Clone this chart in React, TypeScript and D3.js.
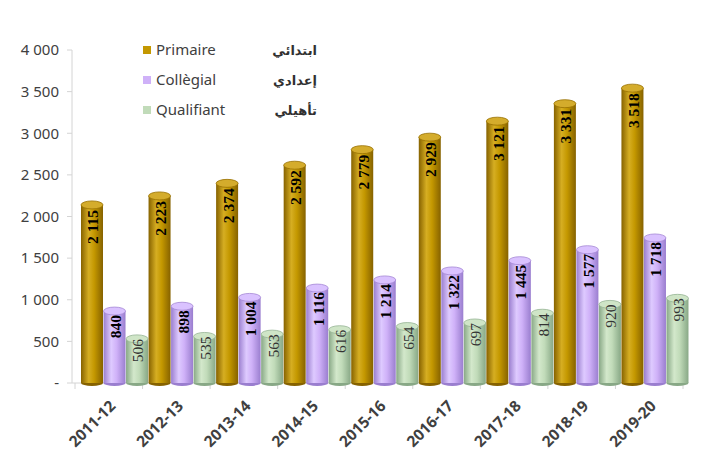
import React from "react";
import * as d3 from "d3";

const categories = ["2011-12", "2012-13", "2013-14", "2014-15", "2015-16", "2016-17", "2017-18", "2018-19", "2019-20"];
const primaire = [2115, 2223, 2374, 2592, 2779, 2929, 3121, 3331, 3518];
const collegial = [840, 898, 1004, 1116, 1214, 1322, 1445, 1577, 1718];
const qualifiant = [506, 535, 563, 616, 654, 697, 814, 920, 993];
const yTicks = [0, 500, 1000, 1500, 2000, 2500, 3000, 3500, 4000];
const seriesNames = ["Primaire", "Collègial", "Qualifiant"];
const seriesArabic = ["ابتدائي", "إعدادي", "تأهيلي"];

const W = 702;
const H = 471;

const fmt = (v: number) => (v === 0 ? "-" : d3.format(",")(v).replace(/,/g, " "));

const styles = [
  { dark: "#866200", mid: "#c49800", light: "#d6ae22", top: "#d4ac2c", rim: "#987000", text: "#000", weight: 700, off: 3 },
  { dark: "#9a7ecf", mid: "#cfb1f8", light: "#decaff", top: "#dac2ff", rim: "#a488d4", text: "#000", weight: 700, off: 2 },
  { dark: "#88a886", mid: "#c1dbb9", light: "#d3e8cb", top: "#cfe5c7", rim: "#96b494", text: "#333", weight: 400, off: -2 },
];

export default function App() {
  const x = d3.scaleBand<string>().domain(categories).range([75, 683]).padding(0);
  const y = d3.scaleLinear().domain([0, 4000]).range([383, 50]);
  const series = [primaire, collegial, qualifiant];
  const bw = 22;
  const step = x.step();
  const inner = step / 3;

  return (
    <svg width={W} height={H} style={{ display: "block", position: "absolute", left: 0, top: 0 }}>
      <defs>
        {styles.map((s, i) => (
          <linearGradient key={i} id={`g${i}`} x1="0" x2="1" y1="0" y2="0">
            <stop offset="0" stopColor={s.dark} />
            <stop offset="0.35" stopColor={s.light} />
            <stop offset="0.6" stopColor={s.mid} />
            <stop offset="1" stopColor={s.dark} />
          </linearGradient>
        ))}
      </defs>
      <rect width={W} height={H} fill="#fff" />
      {/* y axis */}
      <line x1={72} x2={72} y1={y(4000)} y2={y(0)} stroke="#d4d4d4" strokeWidth={1} />
      {yTicks.map((t) => (
        <g key={t}>
          <line x1={67} x2={72} y1={y(t)} y2={y(t)} stroke="#d4d4d4" />
          <text x={59} y={y(t)} dy="0.35em" textAnchor="end" fontFamily="'Noto Sans', sans-serif" fontSize={15} fill="#404040">
            {fmt(t)}
          </text>
        </g>
      ))}
      {/* baseline */}
      <line x1={72} x2={688} y1={y(0)} y2={y(0)} stroke="#d4d4d4" />
      {categories.map((c) => (
        <line key={c} x1={x(c)!} x2={x(c)!} y1={y(0)} y2={y(0) + 6} stroke="#d4d4d4" />
      ))}
      <line x1={x.range()[1]} x2={x.range()[1]} y1={y(0)} y2={y(0) + 6} stroke="#d4d4d4" />
      {/* bars */}
      {categories.map((c, ci) =>
        series.map((vals, si) => {
          const s = styles[si];
          const bx = x(c)! + 6 + si * inner;
          const v = vals[ci];
          const yt = y(v) - 2;
          const yb = y(0);
          const cx = bx + bw / 2;
          return (
            <g key={c + si}>
              <ellipse cx={cx} cy={yb} rx={bw / 2} ry={3} fill={s.dark} />
              <rect x={bx} y={yt} width={bw} height={yb - yt} fill={`url(#g${si})`} />
              <ellipse cx={cx} cy={yt} rx={bw / 2} ry={4} fill={s.top} stroke={s.rim} strokeWidth={0.8} />
              <text
                transform={`translate(${cx + 1},${y(v) + s.off}) rotate(-90)`}
                textAnchor="end"
                dy="0.35em"
                fontFamily="'Liberation Serif', serif"
                fontWeight={s.weight}
                fontSize={15.5}
                fill={s.text}
              >
                {fmt(v)}
              </text>
            </g>
          );
        })
      )}
      {/* x labels */}
      {categories.map((c) => (
        <text
          key={c}
          transform={`translate(${x(c)! + step / 2 + 4},${403}) rotate(-45)`}
          textAnchor="end"
          dy="0.35em"
          fontFamily="'Noto Sans', sans-serif"
          fontWeight={700}
          fontSize={15.5}
          fill="#404040"
        >
          {c}
        </text>
      ))}
      {/* legend */}
      {seriesNames.map((n, i) => {
        const ly = 50 + i * 30;
        return (
          <g key={n}>
            <rect x={143} y={ly - 4} width={8} height={8} fill={styles[i].mid} />
            <text x={156} y={ly} dy="0.35em" fontFamily="'Noto Sans', sans-serif" fontSize={15} fill="#404040">
              {n}
            </text>
            <text x={317} y={ly} dy="0.35em" textAnchor="end" fontFamily="'DejaVu Sans', sans-serif" fontWeight={700} fontSize={13} fill="#303030">
              {seriesArabic[i]}
            </text>
          </g>
        );
      })}
    </svg>
  );
}
